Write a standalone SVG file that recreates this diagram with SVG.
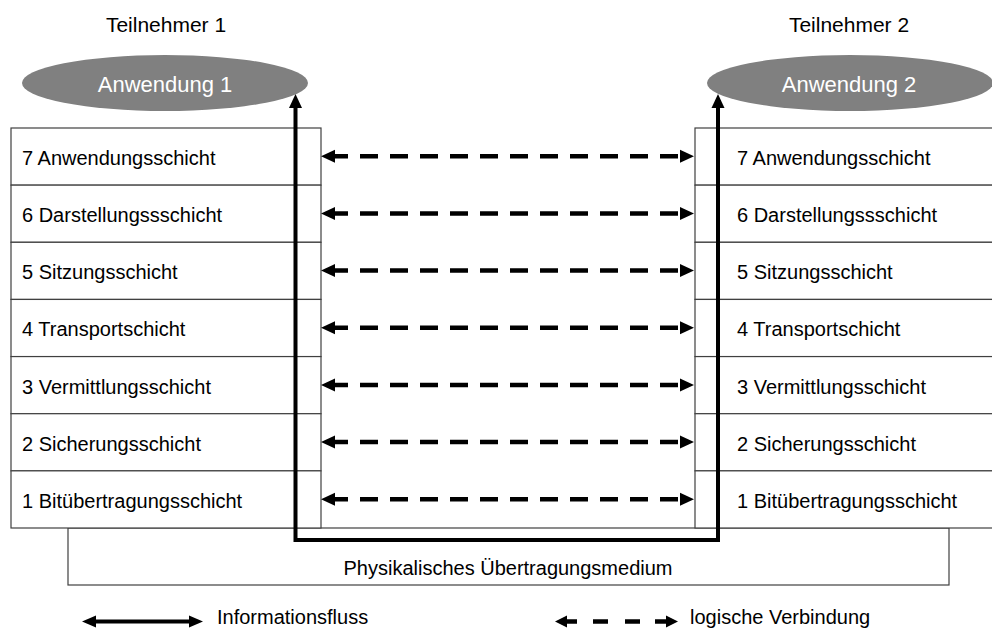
<svg xmlns="http://www.w3.org/2000/svg" width="992" height="630" viewBox="0 0 992 630">
  <style>
    text { font-family: "Liberation Sans", Arial, sans-serif; fill: #000; }
    .title { font-size: 21px; text-anchor: middle; }
    .app { fill: #808080; stroke: none; }
    .appText { font-size: 22px; fill: #fff; text-anchor: middle; }
    .layer { fill: #fff; stroke: #404040; stroke-width: 1.2; }
    .layerText { font-size: 20px; }
    .medium { fill: #fff; stroke: #404040; stroke-width: 1.2; }
    .flow { fill: none; stroke: #000; stroke-width: 4; stroke-linejoin: miter; }
    .dash { fill: none; stroke: #000; stroke-width: 4.5; stroke-dasharray: 18 12; }
    .seg { stroke: #000; stroke-width: 4.5; }
    .head { fill: #000; }
  </style>
  <defs>
    <!-- pair of heads for a logical link, drawn at y = 0 -->
    <g id="logicLink">
      <line class="dash" x1="330" y1="0" x2="682" y2="0"/>
      <polygon class="head" points="321,0 335,-6.5 335,6.5"/>
      <polygon class="head" points="694,0 680,-6.5 680,6.5"/>
    </g>
  </defs>

  <!-- station headings -->
  <text class="title" x="166" y="32">Teilnehmer 1</text>
  <text class="title" x="849" y="32">Teilnehmer 2</text>

  <!-- physical medium -->
  <g id="medium">
    <rect class="medium" x="68" y="528" width="881" height="57"/>
    <text class="layerText" x="508" y="575" text-anchor="middle">Physikalisches Übertragungsmedium</text>
  </g>

  <!-- applications -->
  <g id="app1">
    <ellipse class="app" cx="165" cy="83" rx="143" ry="28"/>
    <text class="appText" x="165" y="92">Anwendung 1</text>
  </g>
  <g id="app2">
    <ellipse class="app" cx="850" cy="83" rx="143" ry="28"/>
    <text class="appText" x="849" y="92">Anwendung 2</text>
  </g>

  <!-- layer stack, station 1 -->
  <g id="stack1">
    <g id="s1-l7"><rect class="layer" x="11" y="128" width="310" height="57.14"/><text class="layerText" x="22" y="165">7 Anwendungsschicht</text></g>
    <g id="s1-l6"><rect class="layer" x="11" y="185.14" width="310" height="57.14"/><text class="layerText" x="22" y="222.1">6 Darstellungssschicht</text></g>
    <g id="s1-l5"><rect class="layer" x="11" y="242.29" width="310" height="57.14"/><text class="layerText" x="22" y="279.3">5 Sitzungsschicht</text></g>
    <g id="s1-l4"><rect class="layer" x="11" y="299.43" width="310" height="57.14"/><text class="layerText" x="22" y="336.4">4 Transportschicht</text></g>
    <g id="s1-l3"><rect class="layer" x="11" y="356.57" width="310" height="57.14"/><text class="layerText" x="22" y="393.6">3 Vermittlungsschicht</text></g>
    <g id="s1-l2"><rect class="layer" x="11" y="413.71" width="310" height="57.14"/><text class="layerText" x="22" y="450.7">2 Sicherungsschicht</text></g>
    <g id="s1-l1"><rect class="layer" x="11" y="470.86" width="310" height="57.14"/><text class="layerText" x="22" y="507.9">1 Bitübertragungsschicht</text></g>
  </g>

  <!-- layer stack, station 2 -->
  <g id="stack2">
    <g id="s2-l7"><rect class="layer" x="695" y="128" width="310" height="57.14"/><text class="layerText" x="737" y="165">7 Anwendungsschicht</text></g>
    <g id="s2-l6"><rect class="layer" x="695" y="185.14" width="310" height="57.14"/><text class="layerText" x="737" y="222.1">6 Darstellungssschicht</text></g>
    <g id="s2-l5"><rect class="layer" x="695" y="242.29" width="310" height="57.14"/><text class="layerText" x="737" y="279.3">5 Sitzungsschicht</text></g>
    <g id="s2-l4"><rect class="layer" x="695" y="299.43" width="310" height="57.14"/><text class="layerText" x="737" y="336.4">4 Transportschicht</text></g>
    <g id="s2-l3"><rect class="layer" x="695" y="356.57" width="310" height="57.14"/><text class="layerText" x="737" y="393.6">3 Vermittlungsschicht</text></g>
    <g id="s2-l2"><rect class="layer" x="695" y="413.71" width="310" height="57.14"/><text class="layerText" x="737" y="450.7">2 Sicherungsschicht</text></g>
    <g id="s2-l1"><rect class="layer" x="695" y="470.86" width="310" height="57.14"/><text class="layerText" x="737" y="507.9">1 Bitübertragungsschicht</text></g>
  </g>

  <!-- connectors -->
  <g id="connectors">
    <!-- logical peer links per layer -->
    <use href="#logicLink" y="156.3"/>
    <use href="#logicLink" y="213.4"/>
    <use href="#logicLink" y="270.6"/>
    <use href="#logicLink" y="327.7"/>
    <use href="#logicLink" y="384.9"/>
    <use href="#logicLink" y="442"/>
    <use href="#logicLink" y="499.2"/>

    <!-- actual information flow down, across the medium and up -->
    <path class="flow" d="M295.5,106 V540 H718 V106"/>
    <polygon class="head" points="295.5,94 289,108 302,108"/>
    <polygon class="head" points="718,94 711.5,108 724.5,108"/>
  </g>

  <!-- legend -->
  <g id="legend">
    <line class="flow" x1="92" y1="621.5" x2="193" y2="621.5"/>
    <polygon class="head" points="82,621.5 96,615.5 96,627.5"/>
    <polygon class="head" points="203,621.5 189,615.5 189,627.5"/>
    <text class="layerText" x="217" y="624">Informationsfluss</text>

    <line class="seg" x1="562" y1="621.5" x2="577" y2="621.5"/>
    <line class="seg" x1="593" y1="621.5" x2="608" y2="621.5"/>
    <line class="seg" x1="625" y1="621.5" x2="640" y2="621.5"/>
    <line class="seg" x1="655" y1="621.5" x2="670" y2="621.5"/>
    <polygon class="head" points="555,621.5 567,615.5 567,627.5"/>
    <polygon class="head" points="678,621.5 666,615.5 666,627.5"/>
    <text class="layerText" x="690" y="624">logische Verbindung</text>
  </g>
</svg>
